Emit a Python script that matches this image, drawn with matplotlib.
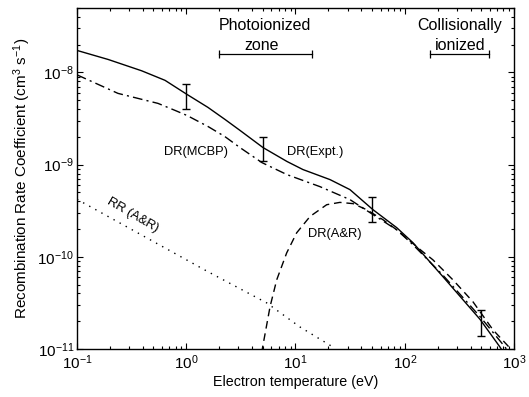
import numpy as np
import matplotlib
matplotlib.use("Agg")
import matplotlib.pyplot as plt

plt.rcParams["font.family"] = ["Liberation Sans", "DejaVu Sans"]
plt.rcParams["mathtext.fontset"] = "custom"
plt.rcParams["mathtext.rm"] = "Liberation Sans"
plt.rcParams["mathtext.it"] = "Liberation Sans:italic"

# DR(Expt.) - solid
expt_T = [0.1, 0.193, 0.391, 0.639, 1.015, 1.58, 2.26, 3.10, 5.04, 8.36, 11.7,
          20.7, 31.5, 51.2, 84.4, 119, 224, 488, 744, 800]
expt_R = [1.73e-8, 1.38e-8, 1.04e-8, 8.2e-9, 5.77e-9, 4.17e-9, 3.09e-9, 2.35e-9,
          1.53e-9, 1.08e-9, 8.83e-10, 6.87e-10, 5.35e-10, 3.24e-10, 2.07e-10,
          1.42e-10, 6.07e-11, 2.1e-11, 1.05e-11, 9.2e-12]

# DR(MCBP) - dash-dot
mcbp_T = [0.1, 0.156, 0.237, 0.394, 0.551, 0.789, 1.015, 1.58, 2.26, 3.10, 4.93,
          8.36, 16.7, 31.5, 48.1, 84.4, 119, 224, 488, 828, 880]
mcbp_R = [9.4e-9, 7.41e-9, 5.92e-9, 5.09e-9, 4.61e-9, 3.87e-9, 3.41e-9, 2.59e-9,
          2.01e-9, 1.53e-9, 1.05e-9, 7.78e-10, 5.77e-10, 4.17e-10, 3.01e-10,
          1.96e-10, 1.35e-10, 6.3e-11, 2.25e-11, 1.05e-11, 9.4e-12]

# DR(A&R) - dashed
ar_T = [4.9, 5.01, 5.85, 6.73, 8.30, 10.25, 13.6, 19.3, 25.5, 33.6, 44.8, 63.3,
        84.4, 138, 181, 277, 422, 643, 900, 960]
ar_R = [9e-12, 1.06e-11, 2.88e-11, 5.62e-11, 1.10e-10, 1.82e-10, 2.74e-10, 3.67e-10,
        3.89e-10, 3.77e-10, 3.24e-10, 2.52e-10, 1.96e-10, 1.2e-10, 9.27e-11,
        5.6e-11, 3.24e-11, 1.61e-11, 1.05e-11, 9.5e-12]

# RR(A&R) - dotted
rr_T = [0.1, 1.54, 5.45, 11.0, 22.0]
rr_R = [4.2e-10, 7.0e-11, 3.16e-11, 1.73e-11, 1.05e-11]

# experimental points with error bars
pt_T = [1.0, 5.0, 50.0, 500.0]
pt_R = [5.78e-9, 1.53e-9, 3.4e-10, 2.0e-11]
pt_err = [1.75e-9, 0.45e-9, 1.02e-10, 0.63e-11]

fig = plt.figure(figsize=(5.29, 3.97), dpi=100)
ax = fig.add_axes([0.1456, 0.121, 0.826, 0.859])

ax.plot(expt_T, expt_R, "k-", lw=1.0)
ax.plot(mcbp_T, mcbp_R, color="k", lw=1.0, ls=(0, (7, 3, 1.5, 3)))
ax.plot(ar_T, ar_R, color="k", lw=1.0, ls=(0, (5.5, 3.5)))
ax.plot(rr_T, rr_R, color="k", lw=1.0, ls=(0, (1, 4)))
ax.errorbar(pt_T, pt_R, yerr=pt_err, fmt="none", ecolor="k", elinewidth=1.0,
            capsize=3, capthick=1.0)

ax.set_xscale("log")
ax.set_yscale("log")
ax.set_xlim(0.1, 1000)
ax.set_ylim(1e-11, 5e-8)

ax.tick_params(which="both", direction="in", top=True, right=True, labelsize=11)
ax.tick_params(which="major", length=4.5, width=0.8)
ax.tick_params(which="minor", length=2.5, width=0.8)
ax.tick_params(axis="y", pad=2)
ax.xaxis.set_minor_locator(matplotlib.ticker.LogLocator(subs=np.arange(2, 10)))
ax.yaxis.set_minor_locator(matplotlib.ticker.LogLocator(subs=np.arange(2, 10)))
for s in ax.spines.values():
    s.set_linewidth(1.0)

ax.set_xlabel("Electron temperature (eV)", fontsize=10.3, labelpad=2)
ax.set_ylabel("Recombination Rate Coefficient (cm$^3$ s$^{-1}$)", fontsize=11)
ax.yaxis.set_label_coords(-0.10, 0.5)

# zone annotations
ax.text(5.3, 3.2e-8, "Photoionized", ha="center", va="center", fontsize=11.5)
ax.text(4.85, 1.95e-8, "zone", ha="center", va="center", fontsize=11.5)
ax.plot([2.0, 14.2], [1.6e-8, 1.6e-8], "k-", lw=0.9, marker="|", ms=6, mew=0.9)
ax.text(320, 3.2e-8, "Collisionally", ha="center", va="center", fontsize=11.5)
ax.text(320, 1.95e-8, "ionized", ha="center", va="center", fontsize=11.5)
ax.plot([170, 590], [1.58e-8, 1.58e-8], "k-", lw=0.9, marker="|", ms=6, mew=0.9)

# curve labels
ax.text(1.23, 1.36e-9, "DR(MCBP)", ha="center", va="center", fontsize=9.3)
ax.text(15.1, 1.36e-9, "DR(Expt.)", ha="center", va="center", fontsize=9.3)
ax.text(23.0, 1.76e-10, "DR(A&R)", ha="center", va="center", fontsize=9.3)
ax.text(0.325, 2.86e-10, "RR (A&R)", ha="center", va="center", fontsize=9.3,
        rotation=-30)

fig.savefig("out.png", dpi=100)
